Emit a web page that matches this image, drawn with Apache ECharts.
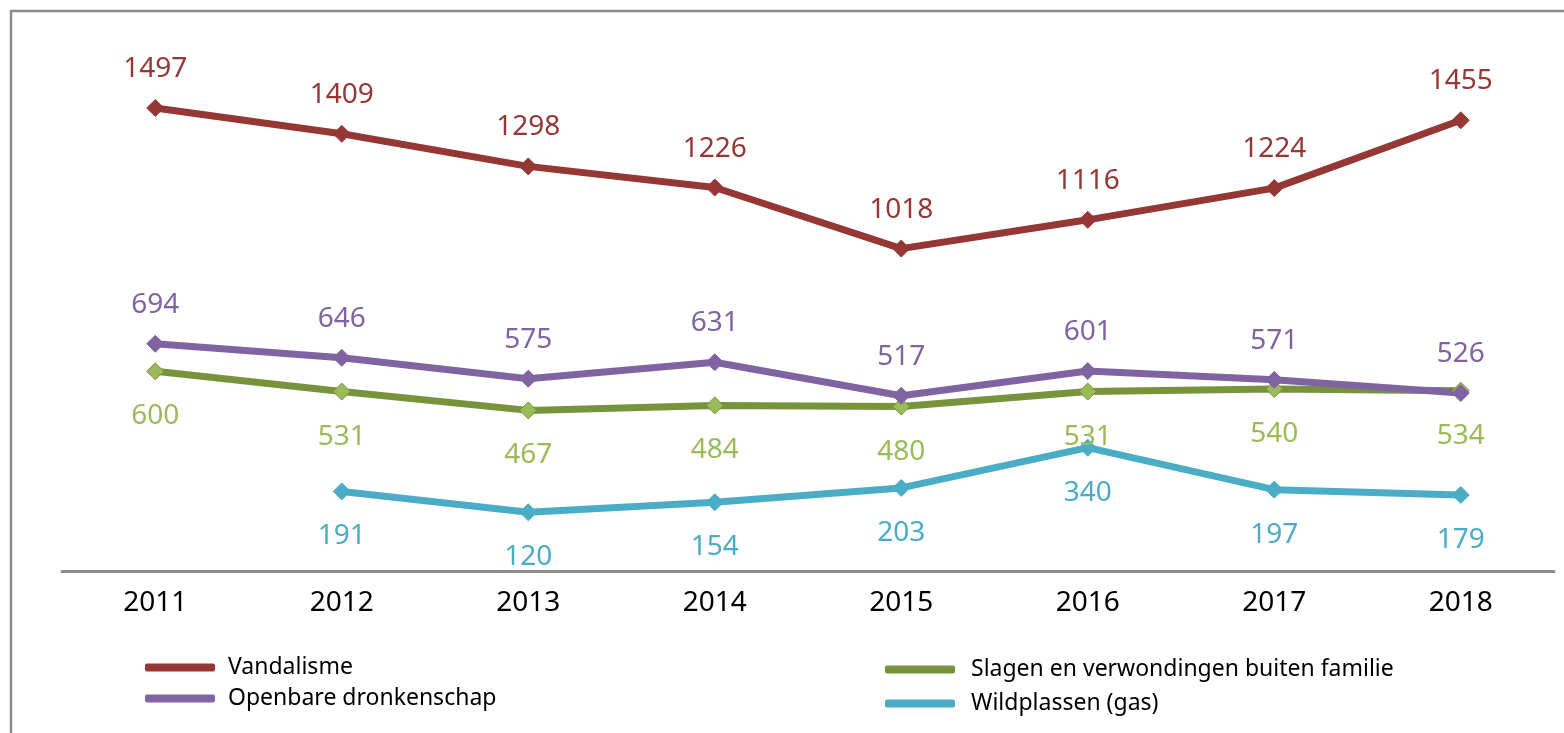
<!DOCTYPE html>
<html>
<head>
<meta charset="utf-8">
<script src="https://cdn.jsdelivr.net/npm/echarts@6/dist/echarts.min.js"></script>
<style>
  html, body { margin: 0; padding: 0; background: #fff; }
  #chart { width: 1564px; height: 733px; }
</style>
</head>
<body>
<div id="chart"></div>
<script>
// data
const years = ['2011', '2012', '2013', '2014', '2015', '2016', '2017', '2018'];
const vandalisme = [1497, 1409, 1298, 1226, 1018, 1116, 1224, 1455];
const slagen = [600, 531, 467, 484, 480, 531, 540, 534];
const dronkenschap = [694, 646, 575, 631, 517, 601, 571, 526];
const wildplassen = [null, 191, 120, 154, 203, 340, 197, 179];

const FONT = '"Noto Sans", "Open Sans", sans-serif';

const chart = echarts.init(document.getElementById('chart'));

// one line series
function lineSeries(name, data, lineColor, markerColor, labelColor, labelPos) {
  return {
    name: name,
    type: 'line',
    data: data,
    symbol: 'diamond',
    symbolSize: 17,
    showAllSymbol: true,
    connectNulls: false,
    lineStyle: {color: lineColor, width: 7},
    itemStyle: {color: markerColor, borderColor: lineColor, borderWidth: 1},
    label: {
      show: true,
      position: labelPos,
      distance: labelPos === 'top' ? 16 : 22,
      fontFamily: FONT,
      fontSize: 28,
      color: labelColor
    },
    emphasis: {disabled: true}
  };
}

// legend entry with a plain line swatch
function legendItem(name, color) {
  return {name: name, itemStyle: {color: color, borderWidth: 0}};
}

const option = {
  animation: false,
  backgroundColor: '#fff',
  graphic: [{
    type: 'rect',
    shape: {x: 11, y: 11, width: 1700, height: 900},
    style: {fill: 'none', stroke: '#8c8c8c', lineWidth: 2.5},
    silent: true,
    z: -1
  }],
  grid: {
    left: 62,
    right: 10,
    top: 19,
    bottom: 162
  },
  xAxis: {
    type: 'category',
    data: years,
    boundaryGap: true,
    axisLine: {onZero: false, lineStyle: {color: '#8c8c8c', width: 3}},
    axisTick: {show: false},
    axisLabel: {
      fontFamily: FONT,
      fontSize: 28,
      color: '#000',
      margin: 18
    }
  },
  yAxis: {
    type: 'value',
    min: -80,
    max: 1800,
    show: false,
    splitLine: {show: false}
  },
  legend: [{
    data: [legendItem('Vandalisme', '#953735'), legendItem('Openbare dronkenschap', '#8064a2')],
    orient: 'vertical',
    left: 140,
    top: 651,
    icon: 'roundRect',
    itemWidth: 70,
    itemHeight: 8,
    itemGap: 8,
    textStyle: {fontFamily: FONT, fontSize: 23, color: '#000', padding: [0, 0, 0, 8]}
  }, {
    data: [legendItem('Slagen en verwondingen buiten familie', '#77933c'), legendItem('Wildplassen (gas)', '#4bacc6')],
    orient: 'vertical',
    left: 880,
    top: 653,
    icon: 'roundRect',
    itemWidth: 70,
    itemHeight: 8,
    itemGap: 11,
    textStyle: {fontFamily: FONT, fontSize: 23, color: '#000', padding: [0, 0, 0, 11]}
  }],
  series: [
    lineSeries('Vandalisme', vandalisme, '#953735', '#953735', '#953735', 'top'),
    lineSeries('Slagen en verwondingen buiten familie', slagen, '#77933c', '#9bbb59', '#9bbb59', 'bottom'),
    lineSeries('Openbare dronkenschap', dronkenschap, '#8064a2', '#8064a2', '#8064a2', 'top'),
    lineSeries('Wildplassen (gas)', wildplassen, '#4bacc6', '#4bacc6', '#4bacc6', 'bottom')
  ]
};

chart.setOption(option);
</script>
</body>
</html>
